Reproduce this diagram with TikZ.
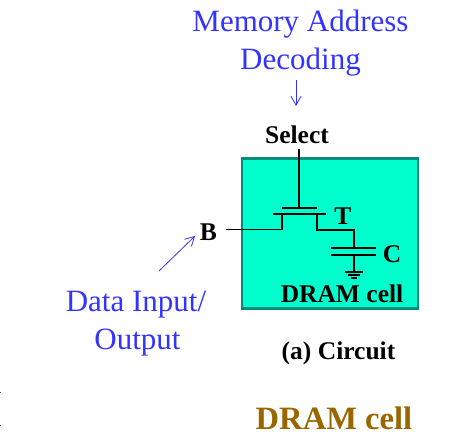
\documentclass[tikz,border=0pt]{standalone}
\usepackage{fontspec}
\setmainfont{Liberation Serif}
\usetikzlibrary{arrows.meta}
\definecolor{cellfill}{RGB}{0,255,204}
\definecolor{celledge}{RGB}{0,140,125}
\definecolor{bluetxt}{RGB}{51,51,255}
\definecolor{browntxt}{RGB}{153,102,0}
\tikzset{
  wire/.style={line width=1.5pt,black},
  lbl/.style={font=\bfseries\fontsize{25.5}{27}\selectfont,text=black,inner sep=0pt},
  bluelbl/.style={font=\fontsize{31}{33}\selectfont,text=bluetxt,inner sep=0pt},
  bluearrow/.style={line width=0.8pt,draw=bluetxt,-{Straight Barb[length=9pt,width=10pt,line width=0.8pt]}}
}
\begin{document}
\begin{tikzpicture}[x=1pt,y=-1pt]
\useasboundingbox (0,0) rectangle (474,443);
\node[draw=celledge,line width=2.6pt,fill=cellfill,minimum width=176pt,minimum height=150pt,inner sep=0pt,anchor=north west] (cell) at (240.5,157.5) {};
\node[bluelbl] (mem) at (300.5,24) {Memory Address};
\node[bluelbl] (dec) at (300.5,62) {Decoding};
\node[bluelbl] (dio) at (136,305) {Data Input/};
\node[bluelbl] (out) at (137.5,343) {Output};
\node[lbl] (sel) at (297,135) {Select};
\node[lbl] (b) at (208.5,232) {B};
\node[lbl] (t) at (343,216) {T};
\node[lbl] (c) at (392,254) {C};
\node[lbl] (dc) at (342,294) {DRAM cell};
\node[lbl] (cap) at (338.5,353) {(a) Circuit};
\node[font=\bfseries\fontsize{32.6}{34}\selectfont,text=browntxt,inner sep=0pt] (title) at (334,418) {DRAM cell};
\coordinate (a1s) at (296,80);
\coordinate (a1e) at (296,106);
\coordinate (a2s) at (159,271);
\coordinate (a2e) at (195,236);
\draw[bluearrow] (a1s) -- (a1e);
\draw[bluearrow] (a2s) -- (a2e);
\coordinate (gtop) at (299,149);
\coordinate (gate) at (299,208);
\coordinate (bl) at (226,229.5);
\coordinate (d1) at (282,229.5);
\coordinate (d2) at (282,214);
\coordinate (s2) at (317,214);
\coordinate (s1) at (317,230);
\coordinate (n1) at (354,230);
\coordinate (p1) at (354,248);
\coordinate (p2) at (354,255);
\coordinate (g) at (354,272);
\draw[wire] (gtop) -- (gate);
\draw[wire] (282,208) -- (317,208);
\draw[wire] (273,214) -- (326,214);
\draw[wire] (bl) -- (d1) -- (d2);
\draw[wire] (s2) -- (s1) -- (n1) -- (p1);
\draw[wire] (331,248) -- (376,248);
\draw[wire] (331,255) -- (376,255);
\draw[wire] (p2) -- (g);
\draw[wire] (345,272) -- (363,272);
\draw[wire] (348,275) -- (360,275);
\draw[wire] (351,278) -- (357,278);
\fill[black!70] (0,392) rectangle (1,393);
\fill[black!70] (0,425) rectangle (1,426);
\end{tikzpicture}
\end{document}
